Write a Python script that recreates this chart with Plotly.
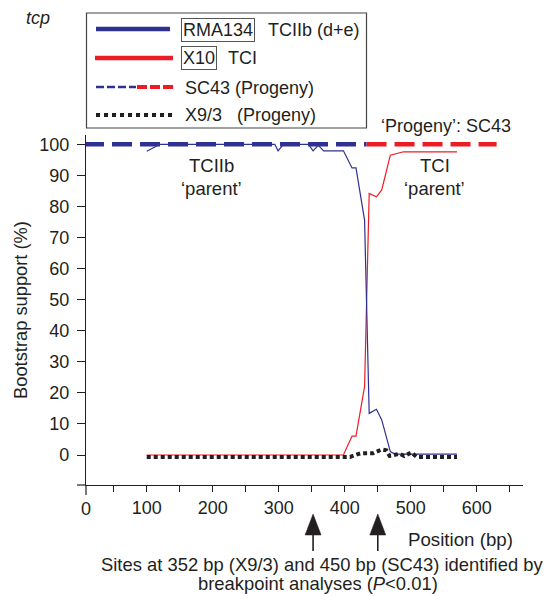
import plotly.graph_objects as go

# ---------------- data ----------------
pos_rma134 = [100, 120, 294, 299, 307, 345, 352, 360, 368, 398, 411, 417, 430, 437, 448, 456, 469, 476, 570]
rma134 = [97.8, 100, 100, 97.9, 100, 100, 97.9, 99.7, 97.9, 97.9, 92.4, 92.4, 75.6, 13.4, 14.7, 11.3, 1.1, 0.3, 0.3]

pos_x10 = [100, 398, 411, 417, 430, 437, 448, 456, 469, 476, 489, 570]
x10 = [0, 0, 6.1, 6.1, 22, 84.2, 83.1, 85.3, 96.5, 96.8, 97.6, 97.6]

pos_x93 = [100, 408, 420, 425, 443, 456, 463, 468, 483, 490, 501, 509, 570]
x93 = [-0.6, -0.6, 0.3, 0.6, 0.6, 1.8, 1.5, -0.3, 0.4, -0.3, 0.8, -0.6, -0.6]

pos_sc43_blue = [5, 433]
pos_sc43_red = [433, 630]
sc43_blue = [100, 100]
sc43_red = [100, 100]

breakpoint_sites = [352, 450]

x_tickvals = [50, 100, 150, 200, 250, 300, 350, 400, 450, 500, 550, 600, 650]
x_ticktext = ["", "100", "", "200", "", "300", "", "400", "", "500", "", "600", ""]
y_tickvals = [0, 10, 20, 30, 40, 50, 60, 70, 80, 90, 100]

BLUE = "#2e3192"
RED = "#ed1c24"
INK = "#231f20"
FONT = "Liberation Sans, Arial, Helvetica, sans-serif"
FS = 18

# ---------------- layout geometry ----------------
W, H = 552, 596
ML, MR, MT, MB = 86, 29, 135, 111
PW, PH = W - ML - MR, H - MT - MB


def X(px):
    return (px - ML) / PW


def Y(py):
    return (H - MB - py) / PH


fig = go.Figure()
fig.add_trace(go.Scatter(x=pos_x10, y=x10, mode="lines", line=dict(color=RED, width=1.2), showlegend=False))
fig.add_trace(go.Scatter(x=pos_rma134, y=rma134, mode="lines", line=dict(color=BLUE, width=1.2), showlegend=False))
fig.add_trace(go.Scatter(x=pos_x93, y=x93, mode="lines", line=dict(color=INK, width=4, dash="4px,3px"), showlegend=False))
fig.add_trace(go.Scatter(x=pos_sc43_blue, y=sc43_blue, mode="lines", line=dict(color=BLUE, width=4.5, dash="20px,8px"), showlegend=False))
fig.add_trace(go.Scatter(x=pos_sc43_red, y=sc43_red, mode="lines", line=dict(color=RED, width=4.5, dash="20px,8px"), showlegend=False))

shapes = []
annotations = []


def txt(text, px, py, xanchor="center", size=FS, italic=False, **kw):
    annotations.append(dict(
        text=text, x=X(px), y=Y(py), xref="paper", yref="paper",
        xanchor=xanchor, yanchor="middle", showarrow=False,
        font=dict(family=FONT, size=size, color=INK, style="italic" if italic else "normal"),
        **kw))


# axis extensions (x-axis stub left of y-axis, y-axis stub below x-axis)
shapes.append(dict(type="line", xref="paper", yref="paper", x0=X(77), x1=X(86), y0=Y(485), y1=Y(485),
                   line=dict(color=INK, width=1.2)))
shapes.append(dict(type="line", xref="paper", yref="paper", x0=X(86), x1=X(86), y0=Y(485), y1=Y(495),
                   line=dict(color=INK, width=1.2)))

# legend box
shapes.append(dict(type="rect", xref="paper", yref="paper", x0=X(86.5), x1=X(366.5), y0=Y(13), y1=Y(128),
                   line=dict(color="#444444", width=1.2), fillcolor="rgba(0,0,0,0)"))
shapes.append(dict(type="line", xref="paper", yref="paper", x0=X(96), x1=X(170), y0=Y(29), y1=Y(29),
                   line=dict(color=BLUE, width=4.5)))
shapes.append(dict(type="line", xref="paper", yref="paper", x0=X(95), x1=X(173), y0=Y(58), y1=Y(58),
                   line=dict(color=RED, width=4.5)))
shapes.append(dict(type="line", xref="paper", yref="paper", x0=X(96), x1=X(136), y0=Y(87), y1=Y(87),
                   line=dict(color=BLUE, width=2.5, dash="8px,3px")))
shapes.append(dict(type="line", xref="paper", yref="paper", x0=X(137), x1=X(173), y0=Y(87), y1=Y(87),
                   line=dict(color=RED, width=4, dash="10px,3px")))
shapes.append(dict(type="line", xref="paper", yref="paper", x0=X(96), x1=X(172), y0=Y(115), y1=Y(115),
                   line=dict(color=INK, width=4, dash="4px,4px")))

txt("RMA134", 181, 29.5, xanchor="left", bordercolor="#555555", borderwidth=1, borderpad=1)
txt("TCIIb (d+e)", 266, 29.5, xanchor="left")
txt("X10", 181, 58.5, xanchor="left", bordercolor="#555555", borderwidth=1, borderpad=1)
txt("TCI", 226, 58.5, xanchor="left")
txt("SC43 (Progeny)", 183, 87.5, xanchor="left")
txt("X9/3\u00a0\u00a0 (Progeny)", 183, 114.5, xanchor="left")

txt("tcp", 38, 18, italic=True)
txt("\u2018Progeny\u2019: SC43", 446, 126)
txt("TCIIb", 211, 166, size=18.5)
txt("\u2018parent\u2019", 211, 188, size=18.5)
txt("TCI", 435, 166, size=18.5)
txt("\u2018parent\u2019", 434, 188, size=18.5)
txt("0", 86, 509)
txt("Position (bp)", 460, 539, size=18.7)
txt("Sites at 352 bp (X9/3) and 450 bp (SC43) identified by", 322, 564, size=18.4)
txt("breakpoint analyses (<i>P</i>&lt;0.01)", 318, 583, size=18.4)

# breakpoint arrows
half_w = 8 / 0.66
for s in breakpoint_sites:
    shapes.append(dict(type="path", xref="x", yref="paper",
                       path=f"M {s - half_w},{Y(535)} L {s + half_w},{Y(535)} L {s},{Y(514)} Z",
                       fillcolor=INK, line=dict(color=INK, width=0.5)))
    shapes.append(dict(type="line", xref="x", yref="paper", x0=s, x1=s, y0=Y(534), y1=Y(551),
                       line=dict(color=INK, width=1.6)))

fig.update_layout(
    width=W, height=H,
    margin=dict(l=ML, r=MR, t=MT, b=MB, pad=0),
    paper_bgcolor="white", plot_bgcolor="white",
    font=dict(family=FONT, size=FS, color=INK),
    showlegend=False,
    shapes=shapes, annotations=annotations,
    xaxis=dict(range=[8, 670], showgrid=False, zeroline=False, showline=True, linecolor=INK, linewidth=1.2,
               tickmode="array", tickvals=x_tickvals, ticktext=x_ticktext,
               ticks="outside", ticklen=6, tickwidth=1.2, tickcolor=INK,
               tickfont=dict(family=FONT, size=FS, color=INK)),
    yaxis=dict(range=[-9.65, 103], showgrid=False, zeroline=False, showline=True, linecolor=INK, linewidth=1.2,
               tickmode="array", tickvals=y_tickvals,
               ticks="outside", ticklen=8, tickwidth=1.2, tickcolor=INK, ticklabelstandoff=4,
               tickfont=dict(family=FONT, size=FS, color=INK),
               title=dict(text="Bootstrap support (%)", font=dict(family=FONT, size=18.3, color=INK), standoff=6)),
)

fig.write_html("out.html", config={"displayModeBar": False},
               post_script="document.body.style.margin='0';document.body.style.overflow='hidden';")
